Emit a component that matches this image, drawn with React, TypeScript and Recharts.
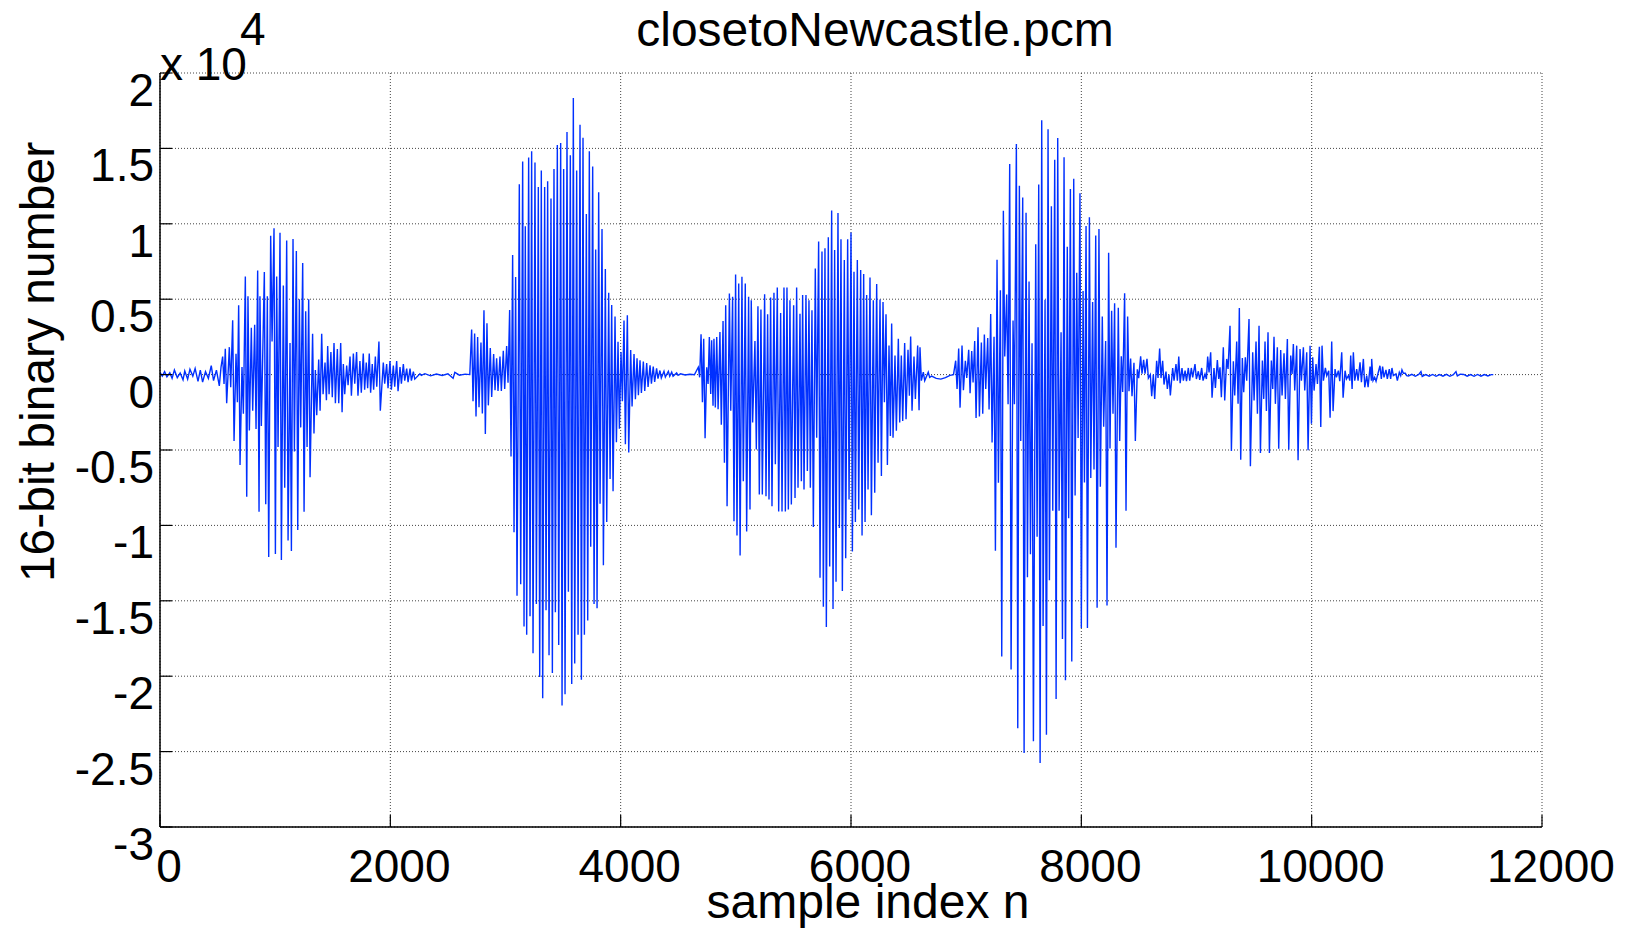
import { CartesianGrid, Line, LineChart, XAxis, YAxis } from "recharts";

// sample index ticks and amplitude ticks (raw 16-bit values, labelled in units of 1e4)
const X_TICKS = [0, 2000, 4000, 6000, 8000, 10000, 12000];
const Y_TICKS = [-30000, -25000, -20000, -15000, -10000, -5000, 0, 5000, 10000, 15000, 20000];

type Pt = [number, number]; // [n, value]
type Col = [number, number, number]; // [n, peak, trough]

// quiet lead-in before the first word
const onsetNoise: Pt[] = [
  [0, 150], [20, -100], [40, 200], [60, -150], [85, 120], [105, -250], [125, 300], [150, -200],
  [175, 100], [200, -350], [215, 250], [240, -300], [260, 350], [285, -100], [305, 400], [330, -450],
  [350, 300], [370, -500], [395, 200], [420, -250], [445, 600], [465, -400], [490, 300], [515, -750], [530, 500]
];

const burst1: Col[] = [
  [544, 1200, -620], [567, 1720, -1900], [602, 1820, -840], [631, 3600, -4400], [660, 1380, -1840],
  [683, 4600, -6000], [712, 500, -2600], [741, 6500, -8100], [764, 5200, -3700], [793, 3100, -2400],
  [822, 3300, -3600], [848, 6900, -9100], [868, 5200, -3400], [906, 6800, -8600], [932, 5200, -12100],
  [961, 9200, 2200], [990, 9700, -11900], [1013, 6500, -4800], [1042, 9400, -12300], [1071, 5900, -7500],
  [1100, 8900, -11000], [1129, 2100, -11700], [1155, 9000, -5100], [1184, 8200, -10300], [1210, 5000, -3500],
  [1239, 7400, -9100], [1265, 4200, -4800], [1291, 5000, -6800], [1325, 2700, -3900], [1349, 300, -2700],
  [1378, 1000, -2400], [1404, 2700, -1300], [1433, 800, -1700], [1456, 1900, -1300], [1484, 1500, -1500],
  [1511, 2100, -1900], [1540, 1700, -1900], [1569, 2100, -2500], [1592, 700, -1300], [1621, 600, -700],
  [1650, 1200, -1400], [1679, 1400, -600], [1707, 1500, -1400], [1736, 900, -1200], [1765, 1400, -1000],
  [1791, 800, -900], [1817, 1400, -1200], [1843, 700, -1000], [1870, 1200, -800], [1901, 2200, -2400],
  [1939, 800, -600], [1968, 700, -900], [1997, 900, -1000], [2026, 600, -800], [2055, 900, -1100],
  [2084, 500, -600], [2113, 700, -400], [2142, 400, -500], [2171, 400, -400], [2200, 200, -300], [2257, 50, -50]
];

const gap1: Pt[] = [
  [2300, 60], [2350, -80], [2400, 40], [2450, -60], [2500, 50], [2545, -250], [2560, 150], [2600, -40],
  [2650, 30], [2690, 0]
];

const burst2: Col[] = [
  [2706, 2990, -1770], [2732, 2720, -2770], [2758, 2500, -2170], [2787, 2120, -2580], [2813, 4270, -3940],
  [2839, 3400, -2040], [2868, 1770, -1490], [2897, 1360, -1030], [2923, 1090, -1090], [2952, 1200, -1090],
  [2981, 1580, -950], [3010, 1900, -540], [3036, 4290, -5430], [3062, 7930, -10460], [3088, 6470, -14670],
  [3120, 12630, -13910], [3149, 14130, -16710], [3172, 9840, -17250], [3201, 14400, -16030], [3227, 14810, -18480],
  [3256, 14070, -15220], [3285, 12440, -20050], [3311, 13530, -21460], [3340, 12440, -15620], [3366, 12820, -18610],
  [3395, 11680, -19780], [3421, 13640, -15760], [3450, 15220, -17930], [3479, 15350, -21950], [3505, 13640, -21190],
  [3534, 16080, -14400], [3563, 14540, -20510], [3589, 18340, -19150], [3618, 13530, -17250], [3647, 16570, -20240],
  [3673, 15700, -17250], [3702, 10650, -16300], [3728, 14810, -11410], [3757, 13800, -15220], [3783, 8290, -15490],
  [3809, 12090, -8560], [3838, 9650, -12640], [3867, 7010, -9780], [3896, 5430, -6930], [3922, 4620, -7740],
  [3951, 3860, -4480], [3977, 2170, -3590], [4003, 1490, -1770], [4029, 3590, -4620], [4058, 3940, -5160],
  [4087, 1630, -2120], [4116, 1360, -1630], [4142, 1090, -1360], [4168, 950, -1220], [4197, 870, -1090],
  [4226, 760, -820], [4255, 620, -600], [4283, 540, -490], [4312, 410, -270], [4341, 270, -220],
  [4376, 220, -160], [4414, 220, -110], [4443, 160, -110], [4486, 110, -50]
];

const gap2: Pt[] = [[4520, 50], [4560, -30], [4600, 20], [4640, -10]];

const burst3: Col[] = [
  [4674, 490, -180], [4698, 2670, -1840], [4721, 2380, -4220], [4747, 490, -620], [4770, 2490, -1290],
  [4790, 2270, -2070], [4810, 2380, -2180], [4834, 2490, -2290], [4862, 2820, -3330], [4889, 3560, -5840],
  [4912, 4600, -8730], [4944, 5380, -2400], [4972, 5160, -9730], [4998, 6640, -10670], [5025, 6040, -12000],
  [5053, 6490, -7070], [5082, 6040, -10400], [5111, 5160, -8950], [5134, 4930, -3180], [5166, 2220, -4960],
  [5192, 4530, -7950], [5218, 4310, -7950], [5250, 5330, -8070], [5276, 4000, -8290], [5302, 5110, -8730],
  [5331, 5420, -5950], [5360, 5780, -9070], [5389, 4090, -9070], [5418, 5780, -9070], [5444, 5780, -8950],
  [5470, 4930, -8620], [5502, 4600, -8180], [5528, 5780, -7510], [5557, 4040, -7070], [5580, 5270, -7620],
  [5609, 5270, -6400], [5635, 4930, -7510], [5661, 4270, -10110], [5690, 7040, -4180], [5719, 8820, -13470],
  [5748, 8160, -15400], [5774, 8380, -16730], [5803, 9110, -12730], [5832, 10890, -15550], [5858, 8270, -13730],
  [5887, 10710, -10180], [5913, 8980, -14350], [5942, 7600, -12180], [5971, 8980, -8290], [6000, 9420, -11730],
  [6026, 6820, -9780], [6055, 7600, -8950], [6084, 6930, -10670], [6110, 6670, -9780], [6136, 5270, -7620],
  [6165, 6440, -9330], [6194, 4930, -7840], [6223, 6000, -5840], [6252, 4980, -6730], [6278, 4820, -1840],
  [6304, 4000, -6000], [6330, 1930, -4070], [6353, 3380, -4180], [6382, 1270, -3730], [6411, 2380, -3180],
  [6437, 1270, -3070], [6466, 2090, -2960], [6495, 1640, -1400], [6518, 2530, -2400], [6547, 1200, -1620],
  [6579, 1930, -2360], [6599, 1820, -400], [6628, 160, -400], [6671, 160, -180]
];

const gap3: Pt[] = [[6700, -100], [6740, -250], [6780, -300], [6820, -200], [6860, -50], [6890, 0]];

const burst4: Col[] = [
  [6909, 920, -950], [6935, 1730, -2190], [6964, 1930, -1040], [6993, 920, -230], [7022, 1640, -1240],
  [7048, 1560, -520], [7074, 2220, -2880], [7103, 3140, -2770], [7132, 2130, -2600], [7158, 2650, -950],
  [7187, 2420, -2310], [7213, 4010, -4500], [7242, 2510, -11680], [7268, 7610, -7170], [7297, 5590, -18690],
  [7323, 10870, 1200], [7352, 5310, -1960], [7378, 13960, -19550], [7407, 3580, -1960], [7436, 15290, -23450],
  [7462, 12520, -4410], [7491, 11740, -25090], [7520, 10730, -13440], [7546, 6170, -11910], [7572, 2080, -24310],
  [7604, 8650, -10760], [7630, 12600, -25750], [7656, 16870, -16670], [7685, 4960, -23880], [7711, 16270, -13640],
  [7740, 11160, -9030], [7769, 14250, -21510], [7795, 15690, -9030], [7824, 2800, -17530], [7850, 14420, -20270],
  [7878, 8480, -9520], [7905, 12310, -19030], [7934, 12980, -8020], [7960, 6750, -4210], [7988, 12030, -16810],
  [8015, 5540, -7150], [8041, 9860, -16810], [8070, 10440, -6860], [8098, 4820, -6290], [8125, 9230, -15460],
  [8153, 9660, -7440], [8182, 3860, -3460], [8211, 2220, -15310], [8237, 8080, -4900], [8263, 4240, -2600],
  [8289, 4730, -11480], [8321, 4440, -4410], [8347, 1210, -1150], [8376, 5390, -9030], [8402, 3860, -1100],
  [8428, 1070, -1440], [8457, 780, -4410], [8486, 350, -230], [8515, 1210, 60], [8541, 980, 60],
  [8570, 1040, -230], [8599, 0, -1440], [8625, 0, -1620], [8654, 920, -230], [8680, 1730, -230],
  [8706, 920, -660], [8735, 200, -950], [8761, 0, -1380]
];

const burst5: Col[] = [
  [8793, 440, -400], [8822, 700, -400], [8846, 1190, -570], [8874, 440, -400], [8901, 260, -440],
  [8929, 440, -400], [8955, 440, -180], [8987, 700, -290], [9016, 220, -350], [9045, 440, -400],
  [9074, 40, -290], [9097, 1190, 150], [9123, 1480, -1540], [9152, 440, -880], [9181, 970, -290],
  [9204, 480, -1500], [9233, 1810, -1720], [9262, 1040, 370], [9291, 3240, -5070], [9320, 880, -1390],
  [9349, 2200, -1940], [9372, 4410, -5640], [9398, 1100, -1170], [9424, 1150, -400], [9456, 3680, -6080],
  [9488, 1480, -1720], [9517, 2200, -2600], [9543, 3240, -5200], [9572, 930, -1610], [9595, 2200, -2420],
  [9621, 2800, -5200], [9650, 930, -950], [9673, 2510, -1940], [9702, 1810, -4910], [9731, 1630, -1390],
  [9760, 1410, -1610], [9789, 2360, -4980], [9818, 1260, 40], [9841, 2030, -1060], [9870, 1920, -5680],
  [9899, 1700, -400], [9928, 1810, -1060], [9957, 1480, -5020], [9986, 1920, -3260], [10009, 1150, -1060],
  [10038, 700, -620], [10067, 1850, -3480], [10090, 1920, -400], [10119, 440, -70], [10148, 260, -2860],
  [10174, 2200, -2420], [10203, 370, -180], [10232, 260, -440], [10261, 1480, -1540], [10290, 260, -290],
  [10319, -70, -400], [10339, 1260, -950], [10362, 1480, -400], [10391, 370, -400], [10420, 820, -510],
  [10449, 1040, -840], [10478, -70, -840], [10507, 530, -400], [10521, 1040, -400], [10547, -180, -440],
  [10593, 590, -290], [10616, 530, -180], [10645, 310, -290], [10674, 370, -290], [10697, 440, -70],
  [10732, 40, -400], [10761, 150, -70], [10784, 310, 90], [10813, 90, -70]
];

const tail: Pt[] = [
  [10840, -90], [10870, 20], [10900, -110], [10930, 10], [10949, 200], [10960, -120], [10990, 0],
  [11020, -100], [11050, 10], [11080, -110], [11110, 0], [11140, -100], [11170, 20], [11200, -110],
  [11230, 0], [11253, 200], [11265, -90], [11290, 30], [11320, 10], [11350, -100], [11380, 0],
  [11410, -110], [11440, 10], [11470, -100], [11500, 0], [11530, -90], [11560, 0], [11577, 0]
];

// each burst column is a peak followed shortly by its trough
const TROUGH_LAG = 12;

function buildRows() {
  const pts: Pt[] = [...onsetNoise, ...gap1, ...gap2, ...gap3, ...tail];
  [burst1, burst2, burst3, burst4, burst5].forEach((cols) => {
    cols.forEach(([n, hi, lo]) => {
      pts.push([n, hi]);
      pts.push([n + TROUGH_LAG, lo]);
    });
  });
  pts.sort((a, b) => a[0] - b[0]);
  return pts.map(([n, v]) => ({ n, v }));
}

const rows = buildRows();

const FONT = "'Liberation Sans', Arial, Helvetica, sans-serif";
const TICK_LEN = 12;

function BottomTick(props: any) {
  const { x, y, payload } = props;
  return (
    <g>
      <line x1={x} y1={y} x2={x} y2={y - TICK_LEN} stroke="#000" strokeWidth={1.2} />
      <text x={x + 9} y={y + 55} textAnchor="middle" fontSize={46} fontFamily={FONT} fill="#000">
        {payload.value}
      </text>
    </g>
  );
}

function TopTick(props: any) {
  const { x, y } = props;
  return <line x1={x} y1={y} x2={x} y2={y + TICK_LEN} stroke="#000" strokeWidth={1.2} />;
}

function LeftTick(props: any) {
  const { x, y, payload } = props;
  return (
    <g>
      <line x1={x} y1={y} x2={x + TICK_LEN} y2={y} stroke="#000" strokeWidth={1.2} />
      <text x={x - 6} y={y + 33} textAnchor="end" fontSize={46} fontFamily={FONT} fill="#000">
        {payload.value / 10000}
      </text>
    </g>
  );
}

function RightTick(props: any) {
  const { x, y } = props;
  return <line x1={x} y1={y} x2={x - TICK_LEN} y2={y} stroke="#000" strokeWidth={1.2} />;
}

export default function App() {
  return (
    <div style={{ position: "absolute", left: 0, top: 0, width: 1634, height: 928, background: "#fff", overflow: "hidden" }}>
      <LineChart width={1634} height={928} data={rows} margin={{ top: 73, right: 92, bottom: 0, left: 0 }}>
        <CartesianGrid stroke="#444" strokeDasharray="1 2" strokeWidth={1} />
        <XAxis
          dataKey="n"
          type="number"
          domain={[0, 12000]}
          ticks={X_TICKS}
          allowDataOverflow
          height={101}
          tickSize={0}
          tickMargin={0}
          tickLine={false}
          axisLine={{ stroke: "#000", strokeWidth: 1.5 }}
          tick={BottomTick}
        />
        <XAxis
          xAxisId="top"
          orientation="top"
          type="number"
          domain={[0, 12000]}
          ticks={X_TICKS}
          allowDataOverflow
          height={0}
          tickSize={0}
          tickMargin={0}
          tickLine={false}
          axisLine={{ stroke: "#000", strokeWidth: 1.5 }}
          tick={TopTick}
        />
        <YAxis
          type="number"
          domain={[-30000, 20000]}
          ticks={Y_TICKS}
          allowDataOverflow
          width={160}
          tickSize={0}
          tickMargin={0}
          tickLine={false}
          axisLine={{ stroke: "#000", strokeWidth: 1.5 }}
          tick={LeftTick}
        />
        <YAxis
          yAxisId="right"
          orientation="right"
          type="number"
          domain={[-30000, 20000]}
          ticks={Y_TICKS}
          allowDataOverflow
          width={0}
          tickSize={0}
          tickMargin={0}
          tickLine={false}
          axisLine={{ stroke: "#000", strokeWidth: 1.5 }}
          tick={RightTick}
        />
        <Line
          type="linear"
          dataKey="v"
          stroke="#0030ff"
          strokeWidth={1.4}
          dot={false}
          activeDot={false}
          isAnimationActive={false}
        />
      </LineChart>
      <svg
        width={1634}
        height={928}
        style={{ position: "absolute", left: 0, top: 0, pointerEvents: "none" }}
        fontFamily={FONT}
        fill="#000"
      >
        <text x={875} y={46} fontSize={48} textAnchor="middle">closetoNewcastle.pcm</text>
        <text x={868} y={918} fontSize={48} textAnchor="middle">sample index n</text>
        <text transform="translate(54,362) rotate(-90)" fontSize={48} textAnchor="middle">16-bit binary number</text>
        <text x={160} y={80} fontSize={46}>x 10</text>
        <text x={240} y={45} fontSize={46}>4</text>
      </svg>
    </div>
  );
}
